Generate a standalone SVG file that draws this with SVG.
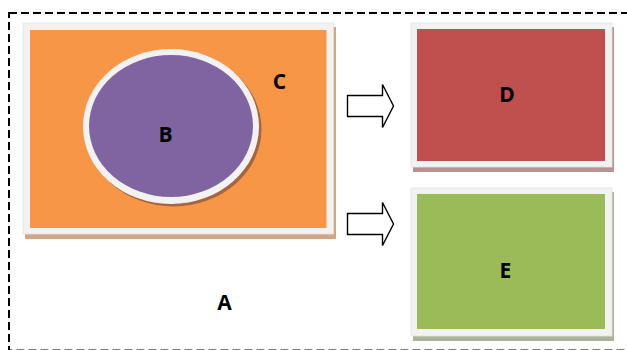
<svg xmlns="http://www.w3.org/2000/svg" width="627" height="350" viewBox="0 0 627 350">
  <style>
    .lbl { font-family: "Open Sans", "Liberation Sans", sans-serif; font-weight: bold; font-size: 21px; fill: #000; text-anchor: middle; }
    .frame { fill: #f2f2f2; stroke: #e4e4e4; stroke-width: 0.8; }
    .arrow { fill: #fff; stroke: #000; stroke-width: 1.4; stroke-linejoin: miter; }
  </style>

  <rect width="627" height="350" fill="#fff"/>

  <!-- A: dashed boundary -->
  <g id="nodeA">
    <rect x="9" y="13" width="625" height="337.5" fill="none" stroke="#000" stroke-width="2" stroke-dasharray="8 4"/>
    <text class="lbl" x="224.5" y="310">A</text>
  </g>

  <!-- C: orange panel -->
  <g id="nodeC">
    <rect x="25" y="27" width="311" height="212" fill="#d3a582"/>
    <rect class="frame" x="23" y="23" width="310.5" height="211"/>
    <rect x="30" y="30" width="296.5" height="198" fill="#f79646"/>
    <text class="lbl" x="279.5" y="88.5">C</text>
  </g>

  <!-- B: purple ellipse inside C -->
  <g id="nodeB">
    <ellipse cx="173.5" cy="129" rx="88" ry="77.5" fill="#a5663f"/>
    <ellipse cx="171" cy="126.5" rx="88" ry="77.5" fill="#f2f2f2"/>
    <ellipse cx="171" cy="126" rx="82" ry="71" fill="#8064a2"/>
    <text class="lbl" x="165.5" y="141.5">B</text>
  </g>

  <!-- D: red panel -->
  <g id="nodeD">
    <rect x="413" y="27" width="201" height="145" fill="#b89392"/>
    <rect class="frame" x="411" y="23" width="201" height="144"/>
    <rect x="417" y="29" width="188" height="132" fill="#c0504d"/>
    <text class="lbl" x="507" y="101.5">D</text>
  </g>

  <!-- E: green panel -->
  <g id="nodeE">
    <rect x="413" y="192" width="201" height="149" fill="#a9b49a"/>
    <rect class="frame" x="411" y="188" width="201" height="148"/>
    <rect x="417" y="194" width="188" height="135" fill="#9bbb59"/>
    <text class="lbl" x="505.5" y="278">E</text>
  </g>

  <!-- connectors: block arrows from C to D and E -->
  <g id="connectors">
    <polygon class="arrow" points="347.5,95.5 382.5,95.5 382.5,84.5 393.5,106 382.5,127.5 382.5,116.5 347.5,116.5"/>
    <polygon class="arrow" points="347.5,213.5 382.5,213.5 382.5,202.5 393.5,224 382.5,245.5 382.5,234.5 347.5,234.5"/>
  </g>
</svg>
